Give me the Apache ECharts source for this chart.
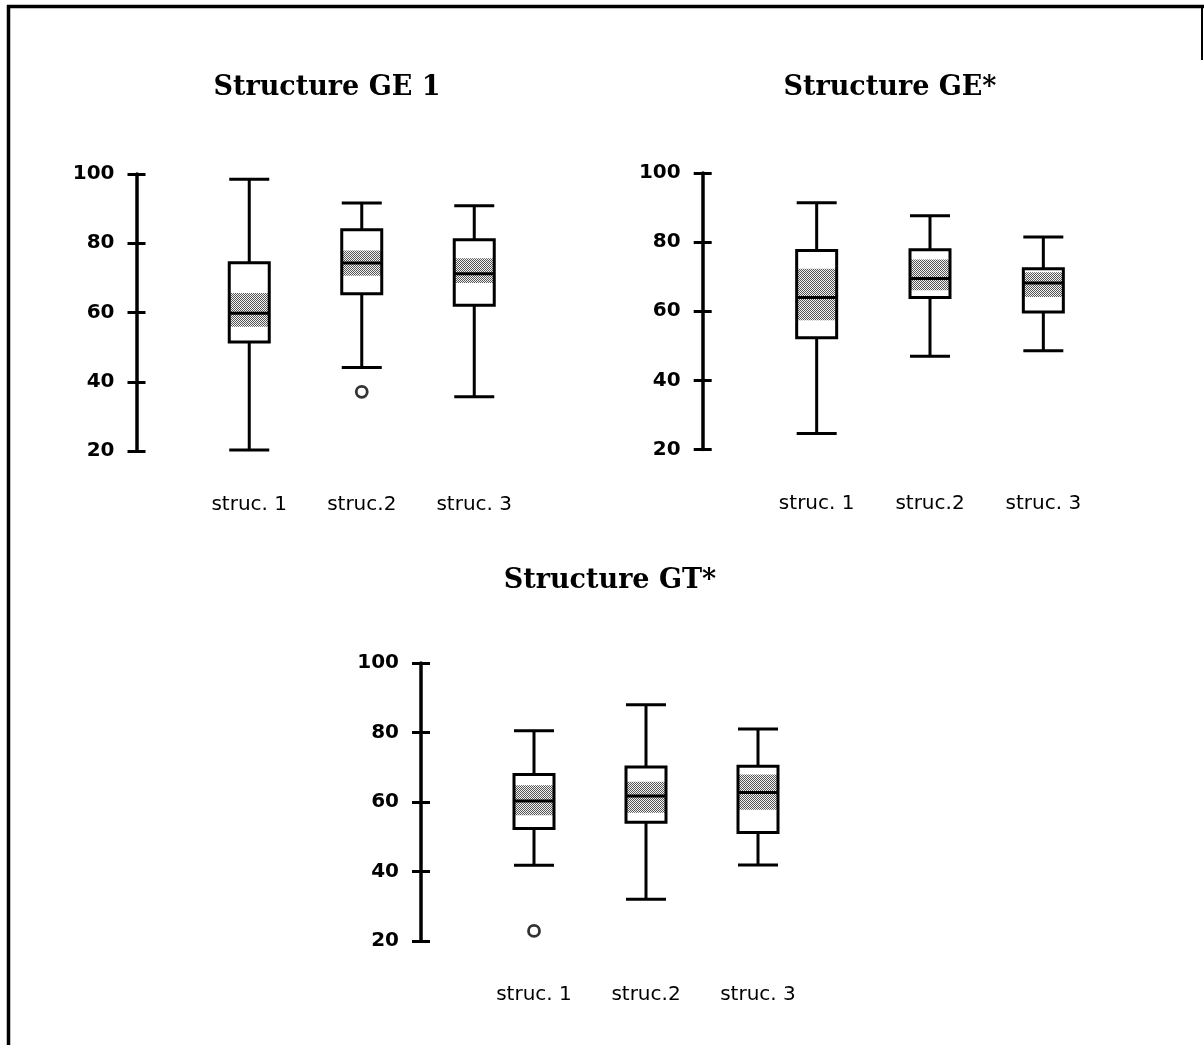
<!DOCTYPE html>
<html>
<head>
<meta charset="utf-8">
<script src="https://cdn.jsdelivr.net/npm/echarts@6/dist/echarts.min.js"></script>
<style>
html,body{margin:0;padding:0;background:#fff;}
#chart{width:1204px;height:1045px;}
</style>
</head>
<body>
<div id="chart"></div>
<script>
// ---- Data ----
const categories = ['struc. 1', 'struc.2', 'struc. 3'];
const yTicks = [20, 40, 60, 80, 100];
const titles = ['Structure GE 1', 'Structure GE*', 'Structure GT*'];

// [min, Q1, median, Q3, max]
const ge1Box = [[20.3, 51.5, 59.8, 74.4, 98.5], [44.1, 65.4, 74.3, 83.9, 91.6], [35.7, 62.1, 71.2, 81.0, 90.8]];
// shaded band around median: [low, high]
const ge1Shade = [[55.9, 65.6], [70.6, 77.9], [68.5, 75.7]];
const ge1Outliers = [[1, 37.1]];

const geStarBox = [[24.6, 52.3, 64.0, 77.6, 91.4], [47.0, 64.0, 69.5, 77.8, 87.6], [48.6, 59.8, 68.2, 72.3, 81.5]];
const geStarShade = [[57.4, 72.3], [66.1, 75.0], [64.1, 71.3]];
const geStarOutliers = [];

const gtStarBox = [[41.8, 52.4, 60.3, 67.9, 80.5], [32.0, 54.2, 61.7, 70.1, 88.0], [41.9, 51.2, 62.7, 70.3, 81.0]];
const gtStarShade = [[56.2, 64.8], [56.9, 65.8], [57.8, 67.9]];
const gtStarOutliers = [[0, 22.9]];

// ---- stipple pattern for the shaded band ----
const pc = document.createElement('canvas');
pc.width = 2; pc.height = 2;
const pctx = pc.getContext('2d');
pctx.fillStyle = '#f2f2f2'; pctx.fillRect(0, 0, 2, 2);
pctx.fillStyle = '#555555';
pctx.fillRect(0, 0, 1, 1);
pctx.fillRect(1, 1, 1, 1);
const stipple = { image: pc, repeat: 'repeat' };

const panels = [
  { box: ge1Box, shade: ge1Shade, out: ge1Outliers, left: 193, top: 174, width: 337.5, height: 277, offset: 56.5, title: [322, 69] },
  { box: geStarBox, shade: geStarShade, out: geStarOutliers, left: 760, top: 173, width: 340, height: 276.5, offset: 57.3, title: [885, 69] },
  { box: gtStarBox, shade: gtStarShade, out: gtStarOutliers, left: 478, top: 663, width: 336, height: 278, offset: 57, title: [605, 562] }
];

const BOXW = 40;
const TICK = 9;
const grid = [], xAxis = [], yAxis = [], series = [], title = [];
panels.forEach((p, k) => {
  grid.push({ left: p.left, top: p.top, width: p.width, height: p.height, containLabel: false });
  title.push({
    text: titles[k], left: p.title[0], top: p.title[1], textAlign: 'center',
    textStyle: { fontFamily: 'DejaVu Serif', fontWeight: 'bold', fontSize: 27, color: '#000' }
  });
  xAxis.push({
    type: 'category', gridIndex: k, data: categories, boundaryGap: true,
    axisLine: { show: false }, axisTick: { show: false }, splitLine: { show: false },
    axisLabel: { margin: 44, fontFamily: 'DejaVu Sans', fontSize: 20, color: '#000' }
  });
  const yBase = { type: 'value', gridIndex: k, min: yTicks[0], max: yTicks[yTicks.length - 1], interval: 20, position: 'left', splitLine: { show: false } };
  // labelled axis: placed TICK px right of the visible axis line, ticks long enough to cross it
  yAxis.push(Object.assign({}, yBase, {
    offset: p.offset - TICK,
    axisLine: { show: true, lineStyle: { color: 'rgba(0,0,0,0)', width: 1 } },
    axisTick: { show: true, inside: false, length: 2 * TICK, lineStyle: { color: '#000', width: 3 } },
    axisLabel: { margin: 22 + TICK, fontFamily: 'DejaVu Sans', fontWeight: 'bold', fontSize: 20, color: '#000' }
  }));
  // same scale: the visible vertical axis line
  yAxis.push(Object.assign({}, yBase, {
    offset: p.offset,
    axisLine: { show: true, lineStyle: { color: '#000', width: 3.5 } },
    axisTick: { show: false },
    axisLabel: { show: false }
  }));
  series.push({
    type: 'custom', xAxisIndex: k, yAxisIndex: 2 * k + 1, z: 1, silent: true,
    data: p.shade.map((s, i) => [i, s[0], s[1]]),
    encode: { x: 0, y: [1, 2] },
    renderItem: function (params, api) {
      const a = api.coord([api.value(0), api.value(2)]);
      const b = api.coord([api.value(0), api.value(1)]);
      return { type: 'rect', shape: { x: a[0] - BOXW / 2, y: a[1], width: BOXW, height: b[1] - a[1] }, style: { fill: stipple } };
    }
  });
  series.push({
    type: 'boxplot', xAxisIndex: k, yAxisIndex: 2 * k, z: 3, silent: true,
    boxWidth: [BOXW, BOXW],
    itemStyle: { color: 'rgba(0,0,0,0)', borderColor: '#000', borderWidth: 3 },
    data: p.box
  });
  series.push({
    type: 'scatter', xAxisIndex: k, yAxisIndex: 2 * k, z: 3, silent: true,
    symbol: 'circle', symbolSize: 11,
    itemStyle: { color: '#fff', borderColor: '#000', borderWidth: 2.8 },
    data: p.out
  });
});

const chart = echarts.init(document.getElementById('chart'), null, { renderer: 'canvas' });
chart.setOption({
  backgroundColor: '#fff',
  animation: false,
  title: title,
  grid: grid,
  xAxis: xAxis,
  yAxis: yAxis,
  series: series,
  graphic: [
    { type: 'line', shape: { x1: 7, y1: 6.5, x2: 1204, y2: 6.5 }, style: { stroke: '#000', lineWidth: 3.5 }, silent: true },
    { type: 'line', shape: { x1: 8.5, y1: 5, x2: 8.5, y2: 1045 }, style: { stroke: '#000', lineWidth: 3.5 }, silent: true },
    { type: 'line', shape: { x1: 1202, y1: 5, x2: 1202, y2: 60 }, style: { stroke: '#000', lineWidth: 2 }, silent: true }
  ]
});
</script>
</body>
</html>
